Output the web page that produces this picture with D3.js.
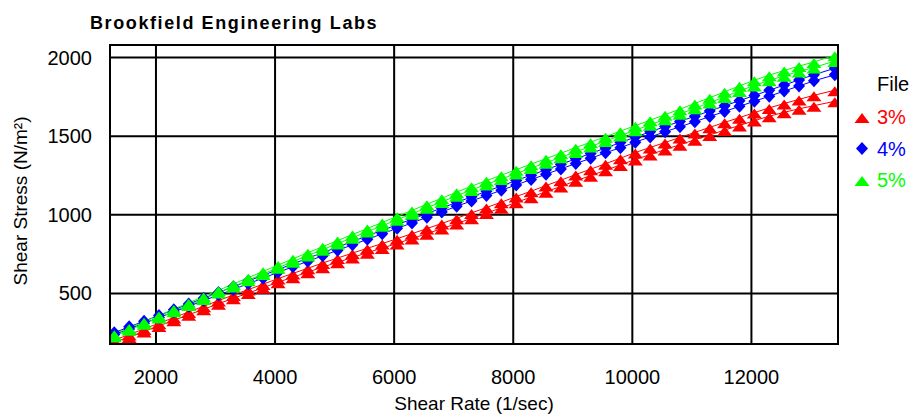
<!DOCTYPE html>
<html>
<head>
<meta charset="utf-8">
<script src="https://cdn.jsdelivr.net/npm/d3@7"></script>
<style>
  body { margin: 0; background: #fff; }
  svg { font-family: "Liberation Sans", Arial, sans-serif; }
</style>
</head>
<body>
<div id="chart"></div>
<script>
// shear rate readings (1/sec)
const shearRate = [1300, 1550, 1800, 2050, 2300, 2550, 2800, 3050, 3300, 3550, 3800, 4050,
  4300, 4550, 4800, 5050, 5300, 5550, 5800, 6050, 6300, 6550, 6800, 7050, 7300, 7550,
  7800, 8050, 8300, 8550, 8800, 9050, 9300, 9550, 9800, 10050, 10300, 10550, 10800,
  11050, 11300, 11550, 11800, 12050, 12300, 12550, 12800, 13050, 13400];

// shear stress (N/m2), two passes per file
const stress3a = [203, 238, 274, 310, 346, 382, 418, 454, 490, 524, 559, 594, 627, 660,
  693, 725, 756, 787, 817, 848, 880, 912, 945, 978, 1012, 1046, 1080, 1116, 1150, 1186,
  1220, 1256, 1290, 1325, 1360, 1396, 1428, 1460, 1492, 1524, 1556, 1588, 1618, 1650,
  1680, 1708, 1734, 1760, 1792];
const stress3b = [189, 223, 258, 293, 329, 364, 399, 434, 469, 502, 536, 571, 603, 635,
  667, 698, 728, 759, 788, 818, 849, 880, 912, 944, 978, 1011, 1044, 1079, 1112, 1147,
  1180, 1216, 1249, 1283, 1317, 1352, 1383, 1415, 1446, 1477, 1508, 1539, 1568, 1599,
  1627, 1652, 1674, 1694, 1722];
const stress4a = [250, 287, 323, 360, 396, 433, 469, 506, 542, 579, 615, 652, 688, 724,
  759, 795, 830, 866, 901, 937, 972, 1008, 1043, 1079, 1114, 1149, 1183, 1218, 1252,
  1287, 1321, 1356, 1390, 1425, 1459, 1494, 1528, 1561, 1594, 1627, 1660, 1693, 1726,
  1759, 1792, 1825, 1858, 1891, 1932];
const stress4b = [238, 274, 310, 346, 382, 418, 454, 490, 525, 562, 597, 634, 669, 704,
  739, 774, 809, 844, 879, 914, 948, 984, 1018, 1054, 1088, 1122, 1156, 1190, 1224,
  1258, 1292, 1326, 1359, 1394, 1427, 1462, 1495, 1528, 1560, 1592, 1625, 1657, 1690,
  1722, 1754, 1787, 1819, 1852, 1890];
const stress5a = [240, 280, 320, 360, 400, 440, 480, 520, 560, 600, 640, 680, 720, 759,
  797, 836, 874, 913, 951, 990, 1028, 1067, 1105, 1144, 1182, 1217, 1252, 1287, 1322,
  1357, 1392, 1427, 1462, 1497, 1532, 1567, 1602, 1637, 1672, 1708, 1745, 1782, 1820,
  1856, 1888, 1918, 1946, 1972, 2015];
const stress5b = [228, 268, 307, 347, 386, 426, 465, 505, 544, 584, 623, 663, 702, 741,
  778, 817, 854, 893, 930, 969, 1006, 1045, 1082, 1121, 1158, 1193, 1228, 1262, 1297,
  1331, 1366, 1400, 1435, 1469, 1504, 1538, 1573, 1607, 1642, 1677, 1714, 1750, 1788,
  1823, 1855, 1884, 1912, 1937, 1978];

const xTicks = [2000, 4000, 6000, 8000, 10000, 12000];
const yTicks = [500, 1000, 1500, 2000];
const files = ["3%", "4%", "5%"];
const colors = ["#ff0000", "#0000ff", "#00ff00"];
const shapes = ["tri", "diamond", "tri"];

const runs = [
  { file: 0, y: stress3b },
  { file: 0, y: stress3a },
  { file: 1, y: stress4b },
  { file: 1, y: stress4a },
  { file: 2, y: stress5b },
  { file: 2, y: stress5a }
];

const W = 912, H = 416;
const pLeft = 110, pRight = 838, pTop = 45, pBottom = 344;

const svg = d3.select("#chart").append("svg")
  .attr("width", W)
  .attr("height", H);

const x = d3.scaleLinear().domain([1228, 13454]).range([pLeft, pRight]);
const y = d3.scaleLinear().domain([178, 2080]).range([pBottom, pTop]);

// grid
const grid = svg.append("g").attr("stroke", "#000").attr("stroke-width", 2);
grid.selectAll("line.vx").data(xTicks).enter().append("line")
  .attr("x1", d => x(d)).attr("x2", d => x(d))
  .attr("y1", pTop).attr("y2", pBottom);
grid.selectAll("line.hy").data(yTicks).enter().append("line")
  .attr("x1", pLeft).attr("x2", pRight)
  .attr("y1", d => y(d)).attr("y2", d => y(d));

svg.append("clipPath").attr("id", "plotClip")
  .append("rect").attr("x", pLeft).attr("y", pTop)
  .attr("width", pRight - pLeft).attr("height", pBottom - pTop);

const plot = svg.append("g").attr("clip-path", "url(#plotClip)");

const triPath = "M0,-4L7.5,6L-7.5,6Z";
const diaPath = "M0,-6.5L6,0L0,6.5L-6,0Z";

function markerPath(s) {
  return s == "tri" ? triPath : diaPath;
}

const line = d3.line();

runs.forEach(r => {
  const pts = shearRate.map((v, i) => [x(v), y(r.y[i])]);
  plot.append("path")
    .attr("d", line(pts))
    .attr("fill", "none")
    .attr("stroke", colors[r.file])
    .attr("stroke-width", 1);
});

runs.forEach(r => {
  const pts = shearRate.map((v, i) => [x(v), y(r.y[i])]);
  plot.selectAll(null).data(pts).enter().append("path")
    .attr("d", markerPath(shapes[r.file]))
    .attr("transform", d => "translate(" + d[0] + "," + d[1] + ")")
    .attr("fill", colors[r.file]);
});

// frame
svg.append("rect")
  .attr("x", pLeft).attr("y", pTop)
  .attr("width", pRight - pLeft).attr("height", pBottom - pTop)
  .attr("fill", "none")
  .attr("stroke", "#000")
  .attr("stroke-width", 2);

// tick labels
svg.selectAll("text.xt").data(xTicks).enter().append("text")
  .attr("x", d => x(d))
  .attr("y", 384)
  .attr("text-anchor", "middle")
  .attr("font-size", 20)
  .text(d => d);

svg.selectAll("text.yt").data(yTicks).enter().append("text")
  .attr("x", 92)
  .attr("y", d => y(d) + 7)
  .attr("text-anchor", "end")
  .attr("font-size", 20)
  .text(d => d);

// titles
svg.append("text")
  .attr("x", 90).attr("y", 29)
  .attr("font-size", 18)
  .attr("font-weight", "bold")
  .attr("letter-spacing", 1.6)
  .text("Brookfield Engineering Labs");

svg.append("text")
  .attr("x", (pLeft + pRight) / 2).attr("y", 410)
  .attr("text-anchor", "middle")
  .attr("font-size", 19)
  .text("Shear Rate (1/sec)");

svg.append("text")
  .attr("transform", "translate(27,201) rotate(-90)")
  .attr("text-anchor", "middle")
  .attr("font-size", 19)
  .text("Shear Stress (N/m²)");

// legend
svg.append("text")
  .attr("x", 877).attr("y", 91)
  .attr("font-size", 20)
  .text("File");

const leg = svg.selectAll("g.leg").data(files).enter().append("g")
  .attr("transform", (d, i) => "translate(0," + (117 + i * 31.5) + ")");
leg.append("path")
  .attr("d", (d, i) => markerPath(shapes[i]))
  .attr("transform", "translate(862,0)")
  .attr("fill", (d, i) => colors[i]);
leg.append("text")
  .attr("x", 877).attr("y", 7)
  .attr("font-size", 20)
  .attr("fill", (d, i) => colors[i])
  .text(d => d);
</script>
</body>
</html>
